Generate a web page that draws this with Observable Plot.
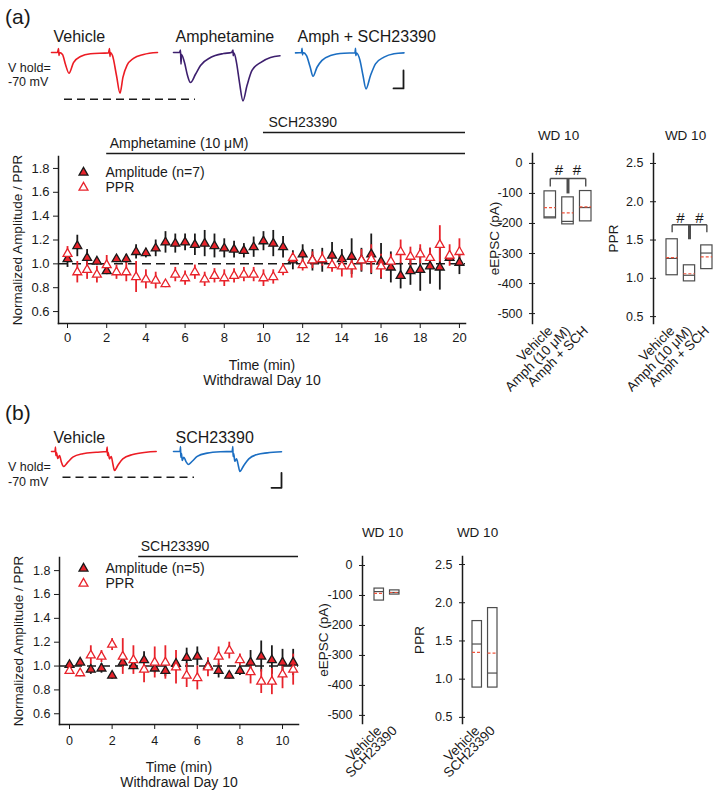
<!DOCTYPE html>
<html><head><meta charset="utf-8">
<script src="https://cdn.jsdelivr.net/npm/d3@7"></script>
<script src="https://cdn.jsdelivr.net/npm/@observablehq/plot@0.6"></script>
<style>
html,body{margin:0;padding:0;background:#fff;}
#fig{position:relative;width:717px;height:795px;overflow:hidden;background:#fff;font-family:"Liberation Sans",Arial,sans-serif;color:#1a1a1a;}
#fig svg{overflow:visible;}
.lab{position:absolute;white-space:nowrap;line-height:1;transform:translateY(-50%);}
</style></head><body><div id="fig"></div>
<script>
// ================= DATA =================
// Panel (a) time course, Withdrawal Day 10
const timeA = [0,0.5,1,1.5,2,2.5,3,3.5,4,4.5,5,5.5,6,6.5,7,7.5,8,8.5,9,9.5,10,10.5,11,11.5,12,12.5,13,13.5,14,14.5,15,15.5,16,16.5,17,17.5,18,18.5,19,19.5,20];
const ampA = [1.04,1.15,1.05,1.02,0.94,1.04,1.04,1.10,1.09,1.13,1.18,1.17,1.18,1.16,1.17,1.15,1.13,1.12,1.11,1.14,1.19,1.17,1.14,1.03,1.08,1.03,1.03,1.07,1.04,1.06,1.03,1.08,1.02,0.97,0.90,0.94,0.95,0.98,0.97,1.05,1.01];
const ampErrA = [0.07,0.09,0.07,0.03,0.03,0.03,0.04,0.06,0.04,0.07,0.09,0.08,0.07,0.09,0.11,0.10,0.08,0.07,0.06,0.085,0.08,0.11,0.09,0.08,0.08,0.09,0.10,0.11,0.08,0.15,0.10,0.17,0.15,0.13,0.11,0.12,0.18,0.15,0.19,0.03,0.10];
const pprA = [1.085,0.93,0.95,0.91,0.99,0.93,0.93,0.89,0.87,0.86,0.83,0.91,0.88,0.93,0.87,0.90,0.88,0.90,0.91,0.91,0.88,0.89,0.95,1.05,0.99,1.03,1.04,0.99,0.98,0.98,1.03,1.04,0.98,1.02,1.10,1.06,1.08,1.05,1.16,1.07,1.10];
const pprErrA = [0.06,0.09,0.08,0.07,0.08,0.06,0.08,0.13,0.08,0.07,0.03,0.06,0.06,0.06,0.06,0.06,0.07,0.06,0.06,0.06,0.07,0.06,0.05,0.04,0.05,0.07,0.06,0.06,0.09,0.10,0.09,0.12,0.10,0.06,0.10,0.08,0.08,0.08,0.16,0.09,0.11];
const drugsA = [{name:"Amphetamine (10 μM)", start:2, end:20.31}, {name:"SCH23390", start:10, end:20.31}];

// Panel (b) time course
const timeB = [0,0.5,1,1.5,2,2.5,3,3.5,4,4.5,5,5.5,6,6.5,7,7.5,8,8.5,9,9.5,10,10.5];
const ampB = [1.01,1.03,0.97,0.98,0.92,1.03,1.00,1.05,0.98,0.96,1.02,1.07,1.08,1.00,0.96,0.92,0.96,1.03,1.08,1.05,1.03,1.03];
const ampErrB = [0.02,0.02,0.04,0.04,0.03,0.04,0.03,0.07,0.04,0.05,0.04,0.08,0.08,0.04,0.06,0.03,0.04,0.10,0.13,0.12,0.11,0.11];
const pprB = [0.96,0.94,1.09,1.08,1.18,1.08,1.05,0.97,1.03,1.03,0.99,0.92,0.90,0.99,1.08,1.13,1.05,0.95,0.87,0.87,0.93,0.97];
const pprErrB = [0.03,0.03,0.08,0.05,0.05,0.15,0.12,0.11,0.13,0.14,0.14,0.10,0.10,0.08,0.08,0.07,0.05,0.10,0.10,0.11,0.12,0.13];
const drugsB = [{name:"SCH23390", start:3.25, end:10.75}];

// Box summaries (a)
const boxCatsA = ["Vehicle","Amph (10 μM)","Amph + SCH"];
const eHiA = [-93,-113,-92], eLoA = [-183,-203,-193], eMedA = [-178,-193,-147], eMeanA = [-147,-165,-145];
const pHiA = [1.51,1.17,1.43], pLoA = [1.04,0.96,1.12], pMedA = [1.26,1.04,1.33], pMeanA = [1.27,1.06,1.28];
// Box summaries (b)
const boxCatsB = ["Vehicle","SCH23390"];
const eHiB = [-77,-83], eLoB = [-117,-97], eMedB = [-87,-90], eMeanB = [-93,-90];
const pHiB = [1.76,1.93], pLoB = [0.89,0.89], pMedB = [1.46,1.08], pMeanB = [1.35,1.34];

// Example traces (t in ms, I in pA)
const tVehA = [0,12,14,15,16,22,28,35,44,58,78,114,116,117,118,122,130,137,143,151,164,184,212];
const iVehA = [0,0,22,-17,0,-11,-67,-115,-56,-22,-7,-2,22,-22,0,-17,-128,-226,-137,-72,-33,-11,0];
const tAmpA = [0,12,14,15,16,22,28,34,44,54,74,100,116,119,119.5,121,126,132,139,147,157,174,194,213];
const iAmpA = [0,0,13,-65,-11,-56,-128,-167,-121,-72,-28,-6,0,13,-18,-3,-56,-167,-269,-184,-100,-56,-28,-18];
const tSchA = [0,12,13,14,15,22,29,35,43,53,70,97,119,120,120.6,122,129,135,141,150,160,177,197,217];
const iSchA = [-2,0,24,-13,0,-17,-78,-132,-82,-44,-17,-4,-2,24,-17,-3,-44,-128,-202,-128,-63,-26,-7,-2];
const tVehB = [0,7,8,8.6,10,12.6,16,20,24,32.6,42.6,62.6,89.4,110,111.4,112,113.4,116,119.4,123,126,132.6,142.6,162.6,189.4,209.4];
const iVehB = [0,0,29,-27,-7,-47,-27,-73,-100,-71,-38,-15,-5,0,29,-27,-7,-49,-33,-87,-127,-93,-49,-20,-5,0];
const tSchB = [0,13,14,14.6,16,17.4,20.6,25,29.4,37.4,47.4,67.4,94,117.4,118.6,119.2,120.4,122.6,126,129.6,132.6,140.6,150.6,167.4,187.4,216];
const iSchB = [0,0,33,-38,-13,-60,-38,-67,-87,-65,-33,-11,-2,0,33,-33,-13,-65,-49,-93,-133,-93,-49,-20,-9,-2];
const scaleBarA = {ms:20, pA:100};
const scaleBarB = {ms:20, pA:100};

// ================= HELPERS =================
const FONT = '"Liberation Sans", Arial, sans-serif';
const RED = "#e8232b", INK = "#1a1a1a", BOX = "#4d4d4d", MEAN = "#f0553d";
const R = 3.3;
const fig = document.getElementById("fig");
function put(el, left, top){ el.style.position="absolute"; el.style.left=left+"px"; el.style.top=top+"px"; fig.appendChild(el); }
function label(text, left, cy, size){ const d=document.createElement("div"); d.className="lab"; d.textContent=text; d.style.left=left+"px"; d.style.top=cy+"px"; d.style.fontSize=size+"px"; fig.appendChild(d); }
const baseStyle = {background:"transparent", overflow:"visible", fontFamily:FONT, fontSize:"12.5px", color:INK};
const T = {lineAnchor:"middle", fill:INK};

function traceChart(o){
  const marks = [];
  o.traces.forEach(tr => {
    const rows = tr.t.map((t,k)=>({name:tr.name, t, I:tr.i[k]}));
    marks.push(Plot.line(rows, {fx:"name", x:"t", y:"I", stroke:tr.color, strokeWidth:1.6, curve:"monotone-x"}));
  });
  marks.push(Plot.text(o.traces.map(d=>d.name), {...T, fx:d=>d, text:d=>d, frameAnchor:"top-left", textAnchor:"start", dy:o.titleDy, dx:o.titleDx, fontSize:16}));
  marks.push(Plot.ruleY([o.dash], {fx:"name", y:"I", x1:"t1", x2:"t2", stroke:INK, strokeWidth:1.5, strokeDasharray:"8,5"}));
  const sb = o.scale, last = o.traces[o.traces.length-1].name;
  marks.push(Plot.line([{name:last,t:sb.t0,I:sb.i0},{name:last,t:sb.t0+sb.ms,I:sb.i0},{name:last,t:sb.t0+sb.ms,I:sb.i0+sb.pA}], {fx:"name", x:"t", y:"I", stroke:INK, strokeWidth:1.8}));
  return Plot.plot({
    width:o.width, height:o.height, marginLeft:51, marginRight:o.mr, marginTop:o.mt, marginBottom:0,
    style:baseStyle,
    fx:{domain:o.traces.map(d=>d.name), paddingInner:0.115, paddingOuter:0, axis:null, round:false},
    x:{domain:[0,216], axis:null}, y:{domain:o.yDomain, axis:null},
    marks
  });
}

function mainChart(o){
  const rows = o.t.map((t,i)=>({t, amp:o.amp[i], ae:o.ampErr[i], ppr:o.ppr[i], pe:o.pprErr[i]}));
  const yTop = o.yDomain[1];
  const marks = [
    Plot.ruleY([1], {stroke:INK, strokeWidth:1.5, strokeDasharray:"9,5"}),
    Plot.ruleX(rows, {x:"t", y1:d=>d.amp-d.ae, y2:d=>d.amp+d.ae, stroke:INK, strokeWidth:1.8}),
    Plot.ruleX(rows, {x:"t", y1:d=>d.ppr-d.pe, y2:d=>d.ppr+d.pe, stroke:RED, strokeWidth:1.8}),
    Plot.dot(rows, {x:"t", y:"amp", symbol:"triangle", r:R, fill:RED, stroke:INK, strokeWidth:1.3}),
    Plot.dot(rows, {x:"t", y:"ppr", symbol:"triangle", r:R, fill:"white", stroke:RED, strokeWidth:1.3}),
    Plot.axisY({ticks:o.yTicks, tickSize:5, tickPadding:4, tickFormat:d3.format(".1f"), label:null, fontSize:o.tickFs}),
    Plot.axisX({ticks:o.xTicks, tickSize:5, tickPadding:o.xPad, tickFormat:d=>String(d), label:null, fontSize:o.tickFs}),
    Plot.frame({anchor:"left", stroke:INK, strokeWidth:1.5}),
    Plot.frame({anchor:"bottom", stroke:INK, strokeWidth:1.5}),
    Plot.text(["Normalized Amplitude / PPR"], {...T, frameAnchor:"left", textAnchor:"middle", dx:-41, rotate:-90, fontSize:13.5}),
    Plot.text(["Time (min)"], {...T, frameAnchor:"bottom", textAnchor:"middle", dy:o.xLabDy, fontSize:14}),
    Plot.text(["Withdrawal Day 10"], {...T, frameAnchor:"bottom", textAnchor:"middle", dy:o.xLabDy+15, fontSize:14}),
    Plot.dot([0], {frameAnchor:"top-left", dx:o.legDx, dy:o.legDy, symbol:"triangle", r:R, fill:RED, stroke:INK, strokeWidth:1.3}),
    Plot.dot([0], {frameAnchor:"top-left", dx:o.legDx, dy:o.legDy+15, symbol:"triangle", r:R, fill:"white", stroke:RED, strokeWidth:1.3}),
    Plot.text([`Amplitude (n=${o.n})`], {...T, frameAnchor:"top-left", dx:o.legDx+22, dy:o.legDy, textAnchor:"start", fontSize:14}),
    Plot.text(["PPR"], {...T, frameAnchor:"top-left", dx:o.legDx+22, dy:o.legDy+15, textAnchor:"start", fontSize:14})
  ];
  o.drugs.forEach((d,k) => {
    marks.push(Plot.ruleY([d], {y:()=>yTop, x1:"start", x2:"end", dy:o.drugDy[k], stroke:INK, strokeWidth:1.5}));
    marks.push(Plot.text([d], {...T, x:"start", y:()=>yTop, text:"name", dy:o.drugDy[k]-10, dx:o.drugDx[k], textAnchor:"start", fontSize:14}));
  });
  return Plot.plot({
    width:o.width, height:o.height, marginLeft:o.ml, marginRight:o.mr, marginTop:o.mt, marginBottom:o.mb,
    style:baseStyle, x:{domain:o.xDomain}, y:{domain:o.yDomain},
    marks
  });
}

function boxChart(o){
  const rows = o.cats.map((c,i)=>({c, lo:o.lo[i], hi:o.hi[i], med:o.med[i], mean:o.mean[i]}));
  const marks = [
    Plot.frame({anchor:"left", stroke:INK, strokeWidth:1.5}),
    Plot.axisY({ticks:o.yTicks, tickSize:6, dx:3, tickPadding:7, tickFormat:o.fmt, label:null, fontSize:12.5}),
    Plot.axisX({tickRotate:-45, tickSize:0, tickPadding:5, label:null, fontSize:13.5}),
    Plot.barY(rows, {x:"c", y1:"lo", y2:"hi", fill:"none", stroke:BOX, strokeWidth:1.2}),
    Plot.tickY(rows, {x:"c", y:"med", stroke:BOX, strokeWidth:1.2}),
    Plot.tickY(rows, {x:"c", y:"mean", stroke:MEAN, strokeWidth:1.2, strokeDasharray:"3,2"}),
    Plot.text([o.yLabel], {...T, frameAnchor:"left", textAnchor:"middle", dx:o.labDx, rotate:-90, fontSize:13.5}),
    Plot.text(["WD 10"], {...T, frameAnchor:"top-left", textAnchor:"middle", dx:o.titleDx, dy:o.titleDy, fontSize:13.5})
  ];
  if (o.bracket){
    marks.push(Plot.link(o.bracket.filter(d=>d.w<2), {x1:"x1", x2:"x2", y1:"y1", y2:"y2", strokeWidth:1.4, stroke:BOX}));
    marks.push(Plot.link(o.bracket.filter(d=>d.w>=2), {x1:"x1", x2:"x2", y1:"y1", y2:"y2", strokeWidth:3, stroke:BOX}));
    o.hashes.forEach(h => marks.push(Plot.text([h], {...T, x:"x", y:"y", dx:h.dx, text:()=>"#", fontSize:15})));
  }
  return Plot.plot({
    width:o.width, height:o.height, marginLeft:o.ml, marginRight:0, marginTop:o.mt, marginBottom:o.mb,
    style:baseStyle,
    x:{domain:o.cats, range:o.xRange, paddingInner:o.pad, paddingOuter:0, round:false},
    y:{domain:o.yDomain},
    marks
  });
}

// ================= PANEL (a) =================
label("(a)", 5, 16, 21);
label("V hold=", 8, 68, 12.5);
label("-70 mV", 8, 82, 12.5);
put(traceChart({
  width:420, height:80, mt:22, mr:17, yDomain:[-278,44.5], titleDy:-8, titleDx:2,
  traces:[{name:"Vehicle", t:tVehA, i:iVehA, color:"#ec1c24"},
          {name:"Amphetamine", t:tAmpA, i:iAmpA, color:"#3d1f6e"},
          {name:"Amph + SCH23390", t:tSchA, i:iSchA, color:"#1b6ec2"}],
  dash:{name:"Vehicle", I:-260, t1:26, t2:288},
  scale:{t0:196, i0:-200, ms:scaleBarA.ms, pA:scaleBarA.pA}
}), 0, 22);

put(mainChart({
  t:timeA, amp:ampA, ampErr:ampErrA, ppr:pprA, pprErr:pprErrA, n:7,
  width:480, height:280, ml:58, mr:15, mt:46, mb:67, tickFs:13,
  xDomain:[-0.46,20.31], yDomain:[0.5,1.9],
  xTicks:[0,2,4,6,8,10,12,14,16,18,20], yTicks:[0.6,0.8,1.0,1.2,1.4,1.6,1.8], xPad:4,
  xLabDy:42, legDx:25, legDy:16,
  drugs:drugsA, drugDy:[-3,-24], drugDx:[3,5]
}), 0, 110);

const eFmt = d=>String(d), pFmt = d3.format(".1f");
put(boxChart({
  cats:boxCatsA, lo:eLoA, hi:eHiA, med:eMedA, mean:eMeanA,
  width:130, height:260, ml:52, mt:43, mb:47, xRange:[64,111], pad:0.35,
  yDomain:[-533,33], yTicks:[-500,-400,-300,-200,-100,0], fmt:eFmt,
  yLabel:"eEPSC (pA)", labDx:-38, titleDx:26, titleDy:-18,
  bracket:[{x1:"Vehicle",x2:"Amph + SCH",y1:-50,y2:-50,w:1.4},{x1:"Vehicle",x2:"Vehicle",y1:-50,y2:-77,w:1.4},
           {x1:"Amph + SCH",x2:"Amph + SCH",y1:-50,y2:-77,w:1.4},{x1:"Amph (10 μM)",x2:"Amph (10 μM)",y1:-50,y2:-100,w:3}],
  hashes:[{x:"Amph (10 μM)",y:-23,dx:-9},{x:"Amph (10 μM)",y:-23,dx:9}]
}), 480, 110);

put(boxChart({
  cats:boxCatsA, lo:pLoA, hi:pHiA, med:pMedA, mean:pMeanA,
  width:117, height:260, ml:53, mt:43, mb:47, xRange:[66,112], pad:0.35,
  yDomain:[0.41,2.63], yTicks:[0.5,1.0,1.5,2.0,2.5], fmt:pFmt,
  yLabel:"PPR", labDx:-40, titleDx:32, titleDy:-18,
  bracket:[{x1:"Vehicle",x2:"Amph + SCH",y1:1.70,y2:1.70,w:1.4},{x1:"Vehicle",x2:"Vehicle",y1:1.70,y2:1.60,w:1.4},
           {x1:"Amph + SCH",x2:"Amph + SCH",y1:1.70,y2:1.60,w:1.4},{x1:"Amph (10 μM)",x2:"Amph (10 μM)",y1:1.70,y2:1.51,w:3}],
  hashes:[{x:"Amph (10 μM)",y:1.79,dx:-9},{x:"Amph (10 μM)",y:1.79,dx:10}]
}), 600, 110);

// ================= PANEL (b) =================
label("(b)", 5, 412, 21);
label("V hold=", 8, 467, 12.5);
label("-70 mV", 8, 482, 12.5);
put(traceChart({
  width:300, height:70, mt:25, mr:19, yDomain:[-260,40], titleDy:-8, titleDx:2,
  traces:[{name:"Vehicle", t:tVehB, i:iVehB, color:"#ec1c24"},
          {name:"SCH23390", t:tSchB, i:iSchB, color:"#1b6ec2"}],
  dash:{name:"Vehicle", I:-171, t1:23, t2:286},
  scale:{t0:196, i0:-242, ms:scaleBarB.ms, pA:scaleBarB.pA}
}), 0, 420);

put(mainChart({
  t:timeB, amp:ampB, ampErr:ampErrB, ppr:pprB, pprErr:pprErrB, n:5,
  width:310, height:285, ml:59, mr:12, mt:47, mb:71, tickFs:12.5,
  xDomain:[-0.47,10.75], yDomain:[0.51,1.91],
  xTicks:[0,2,4,6,8,10], yTicks:[0.6,0.8,1.0,1.2,1.4,1.6,1.8], xPad:7,
  xLabDy:43, legDx:24, legDy:11,
  drugs:drugsB, drugDy:[-1], drugDx:[2]
}), 0, 510);

put(boxChart({
  cats:boxCatsB, lo:eLoB, hi:eHiB, med:eMedB, mean:eMeanB,
  width:140, height:285, ml:52, mt:46, mb:72, xRange:[64,89], pad:0.39,
  yDomain:[-527,30], yTicks:[-500,-400,-300,-200,-100,0], fmt:eFmt,
  yLabel:"eEPSC (pA)", labDx:-39, titleDx:20, titleDy:-24
}), 310, 510);

put(boxChart({
  cats:boxCatsB, lo:pLoB, hi:pHiB, med:pMedB, mean:pMeanB,
  width:110, height:285, ml:52, mt:46, mb:72, xRange:[62,87], pad:0.39,
  yDomain:[0.42,2.605], yTicks:[0.5,1.0,1.5,2.0,2.5], fmt:pFmt,
  yLabel:"PPR", labDx:-43, titleDx:15, titleDy:-24
}), 410, 510);
</script></body></html>
